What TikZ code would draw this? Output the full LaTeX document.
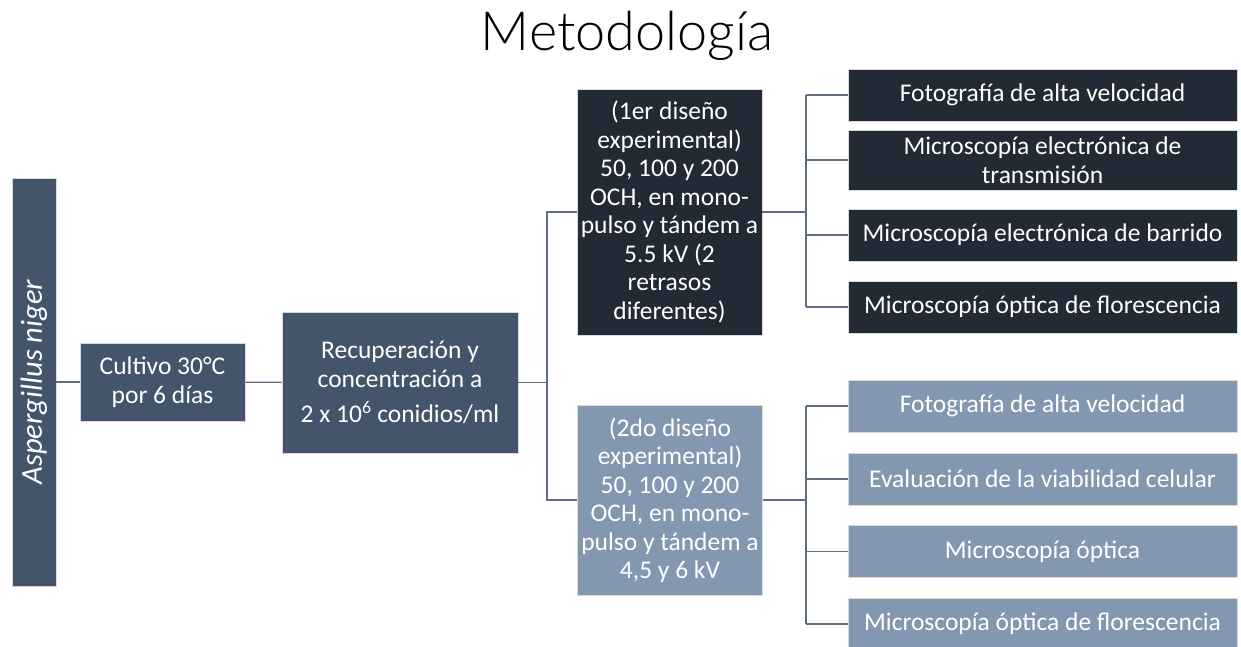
\documentclass[tikz,border=0pt]{standalone}
\usepackage{fontspec}
\setmainfont{Carlito}
\newfontfamily\lightfont{Lato Light}
\usepackage{tikz}
\usetikzlibrary{positioning,calc}
\definecolor{slate}{HTML}{44546A}
\definecolor{slatedark}{HTML}{222A35}
\definecolor{slatelight}{HTML}{8497B0}
\definecolor{linegray}{HTML}{5F6D82}

\begin{document}
\begin{tikzpicture}[
  x=1pt, y=-1pt, font=\fontsize{25.5}{28.5}\selectfont,
  b/.style={draw=black!15,line width=0.8pt,text=white,align=center,inner sep=0pt,fill=slate},
  bd/.style={b,fill=slatedark},
  bl/.style={b,fill=slatelight},
  rb/.style={minimum width=389pt,minimum height=52pt},
  conn/.style={draw=linegray,line width=1.3pt}]
\useasboundingbox (0,0) rectangle (1241,646);
\node[anchor=base] (title) at (627,50) {\lightfont\fontsize{54}{60}\selectfont Metodolog\'{\i}a};
% left chain
\node[b,rotate=90,minimum width=408pt,minimum height=44pt] (asp) at (34,382)
  {\fontsize{30.5}{32}\selectfont\itshape Aspergillus niger};
\node[b,minimum width=165pt,minimum height=78pt] (cult) at (162.5,382) {Cultivo 30°C\\por 6 días};
\node[b,minimum width=236pt,minimum height=141pt] (recu) at (400,382.5)
  {Recuperación y\\concentración a\\[7pt]2 x 10\textsuperscript{6} conidios/ml};
% designs
\node[bd,minimum width=185pt,minimum height=246pt] (d1) at (669.5,212)
  {(1er diseño\\experimental)\\50, 100 y 200\\OCH, en mono-\\pulso y tándem a\\5.5 kV (2\\retrasos\\diferentes)};
\node[bl,minimum width=185pt,minimum height=190pt] (d2) at (670,500)
  {(2do diseño\\experimental)\\50, 100 y 200\\OCH, en mono-\\pulso y tándem a\\4,5 y 6 kV};
% techniques
\node[bd,rb] (t1) at (1042.5,95) {Fotografía de alta velocidad};
\node[bd,rb,minimum height=60pt] (t2) at (1042.5,160) {Microscopía electrónica de\\transmisión};
\node[bd,rb] (t3) at (1042.5,235) {Microscopía electrónica de barrido};
\node[bd,rb] (t4) at (1042.5,307) {Microscopía óptica de florescencia};
\node[bl,rb] (u1) at (1042.5,406) {Fotografía de alta velocidad};
\node[bl,rb] (u2) at (1042.5,479) {Evaluación de la viabilidad celular};
\node[bl,rb] (u3) at (1042.5,551.5) {Microscopía óptica};
\node[bl,rb] (u4) at (1042.5,624) {Microscopía óptica de florescencia};
% connectors
\coordinate (j1) at (547,0);
\coordinate (j2) at (806,0);
\draw[conn] (asp.south) -- (cult.west);
\draw[conn] (cult) -- (recu);
\draw[conn] (recu.east) -- (recu.east -| j1);
\draw[conn] (d1.west) -- (d1.west -| j1) -- (d2.west -| j1) -- (d2.west);
\draw[conn] (d1.east) -- (d1.east -| j2);
\draw[conn] (d2.east) -- (d2.east -| j2);
\draw[conn] (t1.west -| j2) -- (t4.west -| j2);
\draw[conn] (u1.west -| j2) -- (u4.west -| j2);
\foreach \n in {t1,t2,t3,t4,u1,u2,u3,u4}
  \draw[conn] (\n.west -| j2) -- (\n.west);
\end{tikzpicture}
\end{document}
